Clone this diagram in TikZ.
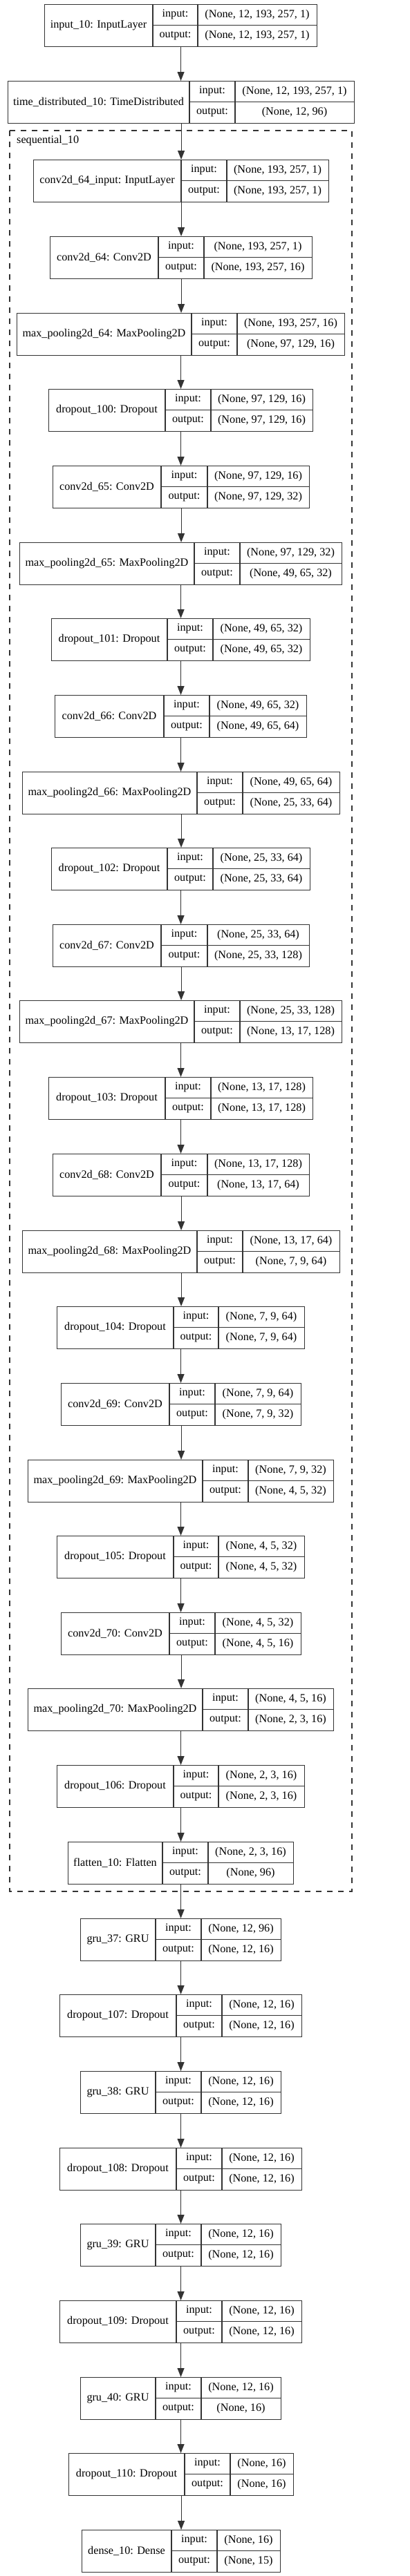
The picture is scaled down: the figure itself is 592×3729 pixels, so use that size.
\documentclass[tikz,border=0pt]{standalone}
\usepackage{fontspec}
\setmainfont{Liberation Serif}
\usetikzlibrary{arrows.meta}
\definecolor{linecol}{rgb}{0.2,0.2,0.2}
\tikzset{
  boxframe/.style={draw=linecol, line width=1.1pt, inner sep=0pt, minimum height=61pt, anchor=north west},
  cellline/.style={draw=linecol, line width=1.1pt},
  celltext/.style={inner sep=0pt, font=\fontsize{16.2}{19}\selectfont},
  arr/.style={draw=linecol, line width=1.1pt, -{Triangle[length=13pt,width=10pt]}},
  clusterframe/.style={draw=linecol, line width=1.1pt, dash pattern=on 8pt off 8pt},
}
\newcommand\kerasLayer[9]{%
  \node[boxframe, minimum width={(#6-#3)*1pt}] (#1) at (#3,#2) {};
  \draw[cellline] (#4,#2) -- (#4,{#2+61});
  \draw[cellline] (#5,#2) -- (#5,{#2+61});
  \draw[cellline] (#4,{#2+30.5}) -- (#6,{#2+30.5});
  \node[celltext] (#1-name) at ({(#3+#4)/2},{#2+30.5}) {#7};
  \node[celltext] (#1-inl) at ({(#4+#5)/2},{#2+15.25}) {input:};
  \node[celltext] (#1-outl) at ({(#4+#5)/2},{#2+45.75}) {output:};
  \node[celltext] (#1-inv) at ({(#5+#6)/2},{#2+15.25}) {#8};
  \node[celltext] (#1-outv) at ({(#5+#6)/2},{#2+45.75}) {#9};
}
\begin{document}
\begin{tikzpicture}[x=1pt,y=-1pt]
\useasboundingbox[fill=white] (0,0) rectangle (592,3729);
% cluster
\draw[clusterframe] (14,189) rectangle (509,2738);
\node[celltext, anchor=west] (seqlbl) at (24,204) {sequential\_10};
\kerasLayer{l1}{6}{64}{221}{286}{458}{input\_10: InputLayer}{(None, 12, 193, 257, 1)}{(None, 12, 193, 257, 1)}
\kerasLayer{l2}{117}{11}{274}{340}{512}{time\_distributed\_10: TimeDistributed}{(None, 12, 193, 257, 1)}{(None, 12, 96)}
\kerasLayer{l3}{231}{48}{262}{328}{475}{conv2d\_64\_input: InputLayer}{(None, 193, 257, 1)}{(None, 193, 257, 1)}
\kerasLayer{l4}{342}{72}{229}{295}{451}{conv2d\_64: Conv2D}{(None, 193, 257, 1)}{(None, 193, 257, 16)}
\kerasLayer{l5}{453}{24}{277}{343}{498}{max\_pooling2d\_64: MaxPooling2D}{(None, 193, 257, 16)}{(None, 97, 129, 16)}
\kerasLayer{l6}{563}{70}{239}{305}{452}{dropout\_100: Dropout}{(None, 97, 129, 16)}{(None, 97, 129, 16)}
\kerasLayer{l7}{674}{76}{233}{300}{447}{conv2d\_65: Conv2D}{(None, 97, 129, 16)}{(None, 97, 129, 32)}
\kerasLayer{l8}{785}{28}{281}{347}{494}{max\_pooling2d\_65: MaxPooling2D}{(None, 97, 129, 32)}{(None, 49, 65, 32)}
\kerasLayer{l9}{895}{74}{242}{308}{448}{dropout\_101: Dropout}{(None, 49, 65, 32)}{(None, 49, 65, 32)}
\kerasLayer{l10}{1006}{79}{237}{303}{443}{conv2d\_66: Conv2D}{(None, 49, 65, 32)}{(None, 49, 65, 64)}
\kerasLayer{l11}{1117}{32}{285}{351}{491}{max\_pooling2d\_66: MaxPooling2D}{(None, 49, 65, 64)}{(None, 25, 33, 64)}
\kerasLayer{l12}{1227}{74}{242}{308}{448}{dropout\_102: Dropout}{(None, 25, 33, 64)}{(None, 25, 33, 64)}
\kerasLayer{l13}{1338}{76}{233}{300}{447}{conv2d\_67: Conv2D}{(None, 25, 33, 64)}{(None, 25, 33, 128)}
\kerasLayer{l14}{1448}{28}{281}{347}{494}{max\_pooling2d\_67: MaxPooling2D}{(None, 25, 33, 128)}{(None, 13, 17, 128)}
\kerasLayer{l15}{1559}{70}{239}{305}{452}{dropout\_103: Dropout}{(None, 13, 17, 128)}{(None, 13, 17, 128)}
\kerasLayer{l16}{1670}{76}{233}{300}{447}{conv2d\_68: Conv2D}{(None, 13, 17, 128)}{(None, 13, 17, 64)}
\kerasLayer{l17}{1781}{32}{285}{351}{491}{max\_pooling2d\_68: MaxPooling2D}{(None, 13, 17, 64)}{(None, 7, 9, 64)}
\kerasLayer{l18}{1891}{82}{251}{316}{440}{dropout\_104: Dropout}{(None, 7, 9, 64)}{(None, 7, 9, 64)}
\kerasLayer{l19}{2002}{88}{245}{311}{435}{conv2d\_69: Conv2D}{(None, 7, 9, 64)}{(None, 7, 9, 32)}
\kerasLayer{l20}{2113}{40}{293}{359}{482}{max\_pooling2d\_69: MaxPooling2D}{(None, 7, 9, 32)}{(None, 4, 5, 32)}
\kerasLayer{l21}{2223}{82}{251}{316}{440}{dropout\_105: Dropout}{(None, 4, 5, 32)}{(None, 4, 5, 32)}
\kerasLayer{l22}{2334}{88}{245}{311}{435}{conv2d\_70: Conv2D}{(None, 4, 5, 32)}{(None, 4, 5, 16)}
\kerasLayer{l23}{2444}{40}{293}{359}{482}{max\_pooling2d\_70: MaxPooling2D}{(None, 4, 5, 16)}{(None, 2, 3, 16)}
\kerasLayer{l24}{2555}{82}{251}{316}{440}{dropout\_106: Dropout}{(None, 2, 3, 16)}{(None, 2, 3, 16)}
\kerasLayer{l25}{2666}{98}{235}{301}{424}{flatten\_10: Flatten}{(None, 2, 3, 16)}{(None, 96)}
\kerasLayer{l26}{2777}{116}{225}{291}{406}{gru\_37: GRU}{(None, 12, 96)}{(None, 12, 16)}
\kerasLayer{l27}{2887}{86}{255}{321}{436}{dropout\_107: Dropout}{(None, 12, 16)}{(None, 12, 16)}
\kerasLayer{l28}{2998}{116}{225}{291}{406}{gru\_38: GRU}{(None, 12, 16)}{(None, 12, 16)}
\kerasLayer{l29}{3109}{86}{255}{321}{436}{dropout\_108: Dropout}{(None, 12, 16)}{(None, 12, 16)}
\kerasLayer{l30}{3219}{116}{225}{291}{406}{gru\_39: GRU}{(None, 12, 16)}{(None, 12, 16)}
\kerasLayer{l31}{3330}{86}{255}{321}{436}{dropout\_109: Dropout}{(None, 12, 16)}{(None, 12, 16)}
\kerasLayer{l32}{3441}{116}{225}{291}{406}{gru\_40: GRU}{(None, 12, 16)}{(None, 16)}
\kerasLayer{l33}{3551}{99}{267}{333}{424}{dropout\_110: Dropout}{(None, 16)}{(None, 16)}
\kerasLayer{l34}{3662}{118}{248}{314}{405}{dense\_10: Dense}{(None, 16)}{(None, 15)}
% connectors
\foreach \a/\b in {l1/l2,l2/l3,l3/l4,l4/l5,l5/l6,l6/l7,l7/l8,l8/l9,l9/l10,l10/l11,l11/l12,l12/l13,l13/l14,l14/l15,l15/l16,l16/l17,l17/l18,l18/l19,l19/l20,l20/l21,l21/l22,l22/l23,l23/l24,l24/l25,l25/l26,l26/l27,l27/l28,l28/l29,l29/l30,l30/l31,l31/l32,l32/l33,l33/l34}
  \draw[arr] (\a.south) -- (\a.south |- \b.north);
\end{tikzpicture}
\end{document}
